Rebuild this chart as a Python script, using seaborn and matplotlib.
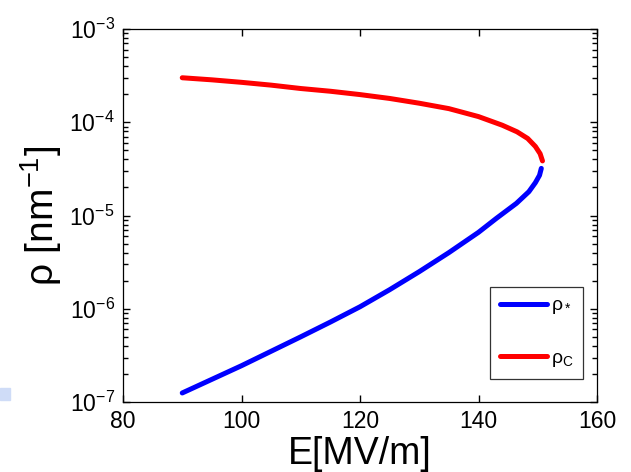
import numpy as np
import pandas as pd
import matplotlib
matplotlib.use("Agg")
import matplotlib.pyplot as plt
import seaborn as sns
from matplotlib.patches import Rectangle
from matplotlib.ticker import FixedLocator, FuncFormatter, NullFormatter

# values (E in MV/m, rho in nm^-1)
e_star = [90, 95, 100, 105, 110, 115, 120, 125, 130, 135, 140, 143, 146.4, 148.5, 149.6, 150.3, 150.6]
rho_star = [1.25e-7, 1.75e-7, 2.45e-7, 3.5e-7, 5.0e-7, 7.2e-7, 1.05e-6, 1.6e-6, 2.5e-6,
            4.0e-6, 6.6e-6, 9.3e-6, 1.35e-5, 1.8e-5, 2.25e-5, 2.7e-5, 3.2e-5]
e_c = [90, 95, 100, 105, 110, 115, 120, 125, 130, 135, 140, 144, 146.5, 148.3, 149.6, 150.4, 150.8]
rho_c = [3.0e-4, 2.85e-4, 2.68e-4, 2.5e-4, 2.3e-4, 2.15e-4, 1.98e-4, 1.8e-4, 1.6e-4,
         1.4e-4, 1.15e-4, 9.3e-5, 7.9e-5, 6.7e-5, 5.5e-5, 4.6e-5, 3.85e-5]
labels = [r"$\rho_*$", r"$\rho_\mathrm{C}$"]
x_ticks = [80, 100, 120, 140, 160]
decades = [1e-7, 1e-6, 1e-5, 1e-4, 1e-3]

df = pd.DataFrame({
    "E": e_star + e_c,
    "rho": rho_star + rho_c,
    "series": [labels[0]] * len(e_star) + [labels[1]] * len(e_c),
})

sns.set_style("ticks", {"xtick.direction": "in", "ytick.direction": "in"})
plt.rcParams["font.family"] = ["Liberation Sans", "DejaVu Sans"]
plt.rcParams["mathtext.fontset"] = "custom"
plt.rcParams["mathtext.rm"] = "Liberation Sans"
plt.rcParams["mathtext.it"] = "Liberation Sans"
plt.rcParams["mathtext.bf"] = "Liberation Sans:bold"
plt.rcParams["text.color"] = "black"
plt.rcParams["axes.labelcolor"] = "black"
plt.rcParams["axes.axisbelow"] = False
for a in ("xtick", "ytick"):
    plt.rcParams[a + ".color"] = "black"
    plt.rcParams[a + ".major.size"] = 5
    plt.rcParams[a + ".minor.size"] = 3.5
    plt.rcParams[a + ".major.width"] = 1.0
    plt.rcParams[a + ".minor.width"] = 1.0
plt.rcParams["ytick.minor.visible"] = True

fig = plt.figure(figsize=(6.31, 4.72), dpi=100)
ax = fig.add_axes([123 / 631, 1 - 402 / 472, 474 / 631, 373 / 472])

sns.lineplot(data=df, x="E", y="rho", hue="series", palette=["#0000ff", "#ff0000"],
             estimator=None, sort=False, linewidth=3.6, ax=ax)

ax.set_yscale("log")
ax.set_xlim(80, 160)
ax.set_ylim(1e-7, 1e-3)
ax.set_xticks(x_ticks)
minor = [d * k for d in decades[:-1] for k in range(2, 10)]
ax.yaxis.set_major_locator(FixedLocator(decades))
ax.yaxis.set_minor_locator(FixedLocator(minor))
ax.yaxis.set_minor_formatter(NullFormatter())
ax.yaxis.set_major_formatter(FuncFormatter(lambda v, p: "10$^{%d}$" % round(np.log10(v))))
ax.tick_params(which="both", direction="in", left=True, bottom=True, top=True, right=True,
               labelsize=16.5, color="black", labelcolor="black")
ax.tick_params(which="major", length=5, width=1.0, pad=6)
ax.tick_params(axis="y", which="minor", length=3.5, width=1.0)
ax.tick_params(axis="x", which="minor", length=0)
for s in ax.spines.values():
    s.set_color("black")
    s.set_linewidth(0.9)

ax.set_xlabel("E[MV/m]", fontsize=27, labelpad=2)
ax.set_ylabel(r"$\rho$ [nm$^{-1}$]", fontsize=28, labelpad=4)

leg = ax.legend(loc="lower right", fontsize=14, frameon=True, fancybox=False,
                edgecolor="black", handlelength=2.4, handletextpad=0.2, borderpad=0.5,
                labelspacing=1.7, borderaxespad=0, bbox_to_anchor=(0.970, 0.062))
leg.get_frame().set_linewidth(0.9)

fig.patches.append(Rectangle((0, 1 - 400 / 472), 10 / 631, 12 / 472,
                             transform=fig.transFigure, color="#cfdcf7", zorder=0))

fig.savefig("out.png", dpi=100)
